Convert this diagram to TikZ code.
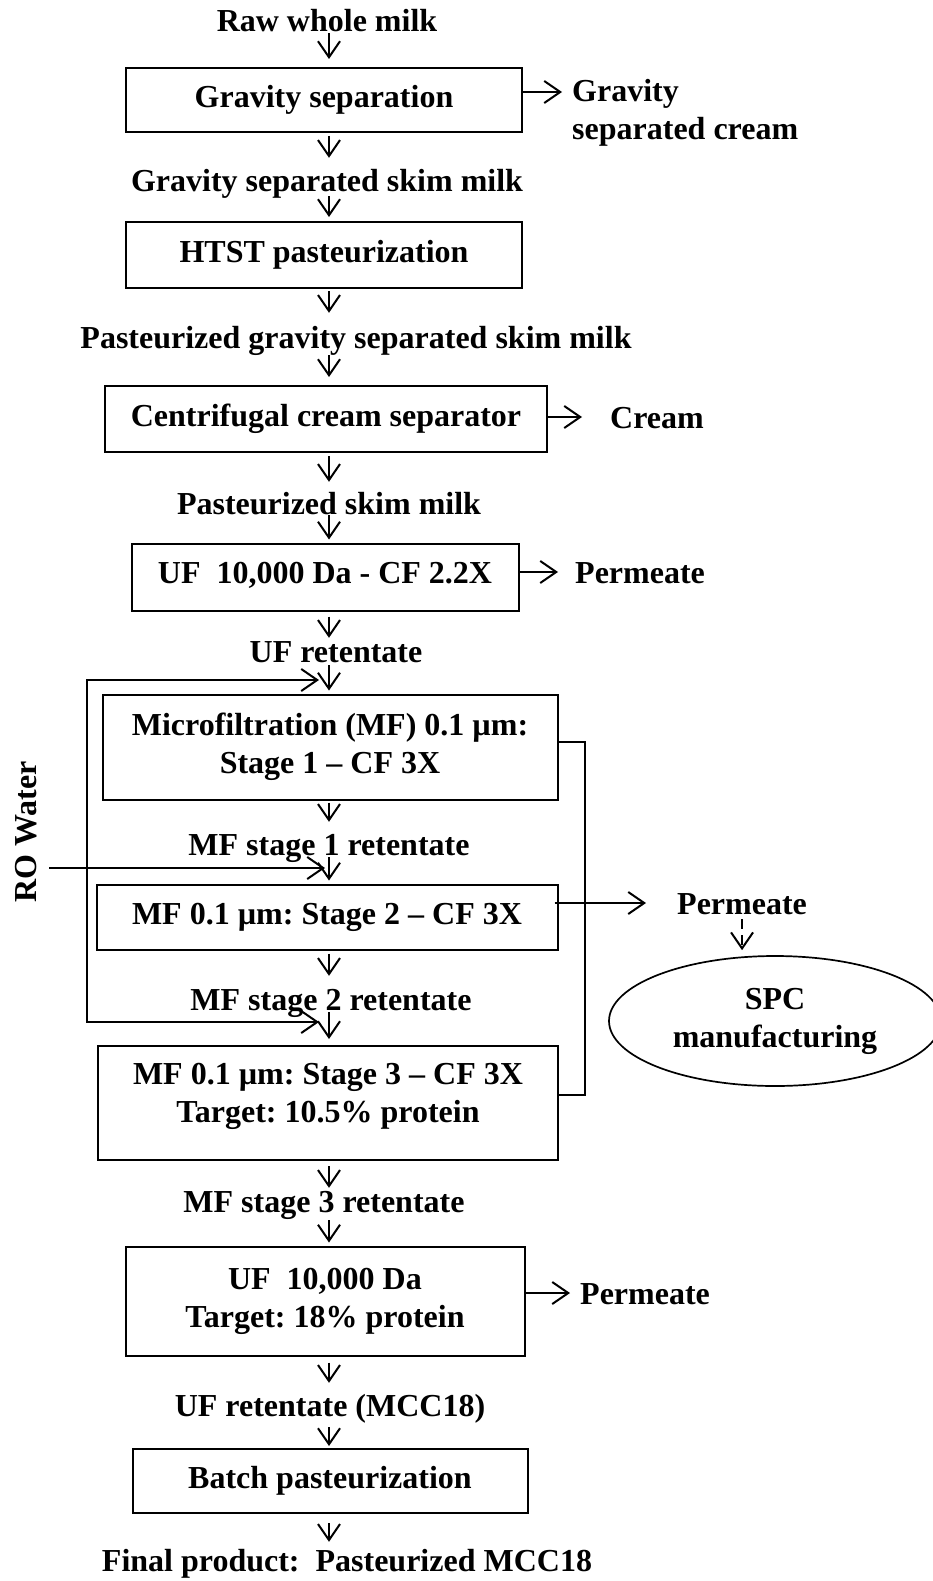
\documentclass[tikz,border=0pt]{standalone}
\usepackage{fontspec}
\setmainfont{Liberation Serif}
\usepackage{tikz}
\usetikzlibrary{arrows,arrows.meta,calc,positioning,shapes.geometric}
\frenchspacing
\tikzset{
  box/.style={draw, line width=2pt, inner sep=0pt, align=center,
    font=\fontsize{32}{38}\selectfont\bfseries},
  lbl/.style={inner sep=0pt, text height=22pt, text depth=0pt,
    font=\fontsize{32}{38}\selectfont\bfseries},
  flow/.style={line width=2pt, -{Straight Barb[length=16pt,width=22pt]}},
  recyc/.style={line width=2pt,
    {Straight Barb[length=16pt,width=22pt]}-{Straight Barb[length=16pt,width=22pt]}},
}

\begin{document}
\begin{tikzpicture}[x=1pt, y=-1pt]
\useasboundingbox (0,0) rectangle (932,1581);
\pgfmathsetmacro{\colx}{329}
\coordinate (col) at (\colx,0);

% main process column
\node[lbl, anchor=base] (raw) at (327,32) {Raw whole milk};
\node[box, minimum width=396pt, minimum height=64pt] (grav) at (324,100) {Gravity separation};
\node[lbl, anchor=base] (gskim) at (327,192) {Gravity separated skim milk};
\node[box, minimum width=396pt, minimum height=66pt] (htst) at (324,255) {HTST pasteurization};
\node[lbl, anchor=base] (pgskim) at (356,348) {Pasteurized gravity separated skim milk};
\node[box, minimum width=442pt, minimum height=66pt] (centri) at (326,419) {Centrifugal cream separator};
\node[lbl, anchor=base] (pskim) at (329,514) {Pasteurized skim milk};
\node[box, minimum width=387pt, minimum height=67pt] (uf1) at (325,577) {UF\ \ 10,000 Da - CF 2.2X\rule[-8pt]{0pt}{0pt}};
\node[lbl, anchor=base] (ufret) at (336,662) {UF retentate};
\node[box, minimum width=455pt, minimum height=105pt] (mf1) at (330,747) {Microfiltration (MF) 0.1 µm:\\Stage 1 -- CF 3X};
\node[lbl, anchor=base] (mf1ret) at (329,855) {MF stage 1 retentate};
\node[box, minimum width=461pt, minimum height=65pt] (mf2) at (327,917) {MF 0.1 µm: Stage 2 -- CF 3X};
\node[lbl, anchor=base] (mf2ret) at (331,1010) {MF stage 2 retentate};
\node[box, minimum width=460pt, minimum height=114pt] (mf3) at (328,1103) {MF 0.1 µm: Stage 3 -- CF 3X\\Target: 10.5\% protein\rule[-20pt]{0pt}{0pt}};
\node[lbl, anchor=base] (mf3ret) at (324,1212) {MF stage 3 retentate};
\node[box, minimum width=399pt, minimum height=109pt] (uf2) at (325,1301) {UF\ \ 10,000 Da\\Target: 18\% protein};
\node[lbl, anchor=base] (ufmcc) at (330,1416) {UF retentate (MCC18)};
\node[box, minimum width=395pt, minimum height=64pt] (batch) at (330,1481) {Batch pasteurization};
\node[lbl, anchor=base] (final) at (347,1571) {Final product:\ \ Pasteurized MCC18};

% side streams
\node[inner sep=0pt, anchor=north west, align=left, font=\fontsize{32}{38}\selectfont\bfseries] (gcream) at (572,79) {Gravity\\separated cream};
\node[lbl, anchor=west] (cream) at (610,417) {Cream};
\node[lbl, anchor=west] (perm1) at (575,572) {Permeate};
\node[lbl, anchor=west] (perm2) at (677,903) {Permeate};
\node[lbl, anchor=west] (perm3) at (580,1293) {Permeate};
\node[lbl, rotate=90] (ro) at (25,832) {RO Water};
\node[ellipse, draw, line width=1.7pt, inner sep=0pt, minimum width=332pt, minimum height=130pt, align=center, font=\fontsize{32}{38}\selectfont\bfseries] (spc) at (775,1021) {SPC\\manufacturing};

% down arrows
\draw[flow, shorten <=1pt, shorten >=8pt] (raw.south -| col) -- (grav.north -| col);
\draw[flow, shorten <=3pt, shorten >=12pt] (grav.south -| col) -- (gskim.north -| col);
\draw[flow, shorten <=4pt, shorten >=4pt] (gskim.south -| col) -- (htst.north -| col);
\draw[flow, shorten <=2pt, shorten >=13pt] (htst.south -| col) -- (pgskim.north -| col);
\draw[flow, shorten <=7pt, shorten >=8pt] (pgskim.south -| col) -- (centri.north -| col);
\draw[flow, shorten <=3pt, shorten >=10pt] (centri.south -| col) -- (pskim.north -| col);
\draw[flow, shorten <=1pt, shorten >=3pt] (pskim.south -| col) -- (uf1.north -| col);
\draw[flow, shorten <=5pt, shorten >=2pt] (uf1.south -| col) -- (ufret.north -| col);
\draw[flow, shorten <=3pt, shorten >=3pt] (ufret.south -| col) -- (mf1.north -| col);
\draw[flow, shorten <=2pt, shorten >=11pt] (mf1.south -| col) -- (mf1ret.north -| col);
\draw[flow, shorten <=2pt, shorten >=3pt] (mf1ret.south -| col) -- (mf2.north -| col);
\draw[flow, shorten <=3pt, shorten >=12pt] (mf2.south -| col) -- (mf2ret.north -| col);
\draw[flow, shorten <=2pt, shorten >=6pt] (mf2ret.south -| col) -- (mf3.north -| col);
\draw[flow, shorten <=5pt, shorten >=2pt] (mf3.south -| col) -- (mf3ret.north -| col);
\draw[flow, shorten <=8pt, shorten >=3pt] (mf3ret.south -| col) -- (uf2.north -| col);
\draw[flow, shorten <=6pt, shorten >=11pt] (uf2.south -| col) -- (ufmcc.north -| col);
\draw[flow, shorten <=11pt, shorten >=2pt] (ufmcc.south -| col) -- (batch.north -| col);
\draw[flow, shorten <=9pt, shorten >=7pt] (batch.south -| col) -- (final.north -| col);

% side arrows
\draw[flow, shorten >=10pt] ([yshift=8pt]grav.east) -- ([yshift=8pt]grav.east -| gcream.west);
\draw[flow, shorten >=28pt] (centri.east |- cream.west) -- (cream.west);
\draw[flow, shorten >=17pt] (uf1.east |- perm1.west) -- (perm1.west);
\draw[flow, shorten <=-4pt, shorten >=31pt] (mf2.east |- perm2.west) -- (perm2.west);
\draw[flow, shorten >=10pt] (uf2.east |- perm3.west) -- (perm3.west);
\draw[flow, dash pattern=on 10pt off 6pt, shorten <=5pt, shorten >=5pt] (perm2.south) -- (perm2.south |- spc.north);

% permeate collector
\draw[line width=2pt] ([yshift=5pt]mf1.east) -- ++(26,0) |- ([yshift=8pt]mf3.east);

% retentate recycle and RO water
\coordinate (rin1) at (\colx,680);
\coordinate (rin2) at (\colx,868);
\coordinate (rin3) at (\colx,1022);
\coordinate (rl) at (87,680);
\draw[recyc, shorten <=10pt, shorten >=10pt] (rin1) -- (rl) -- (rl |- rin3) -- (rin3);
\draw[flow, shorten <=13pt, shorten >=4pt] (ro.south |- rin2) -- (rin2);
\end{tikzpicture}
\end{document}
